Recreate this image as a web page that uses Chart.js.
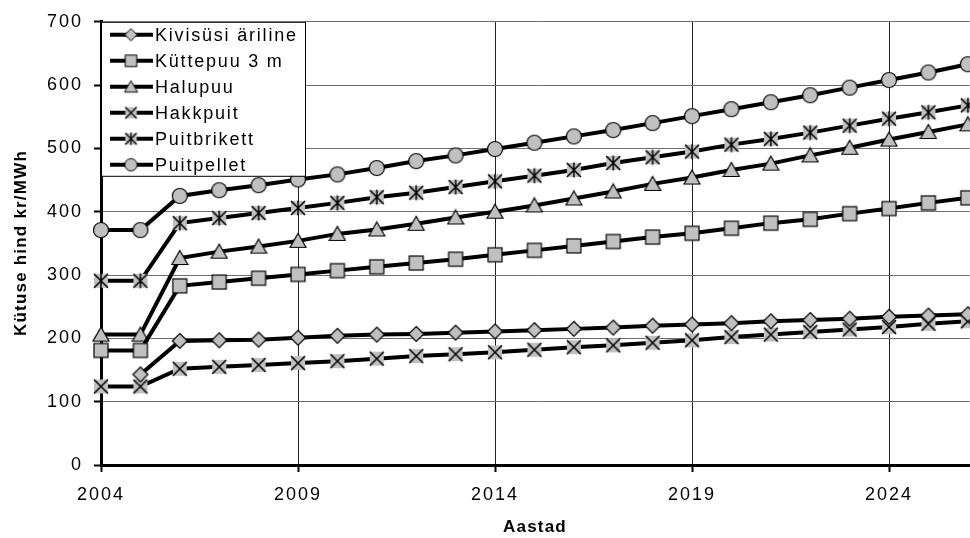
<!DOCTYPE html>
<html>
<head>
<meta charset="utf-8">
<script src="https://cdn.jsdelivr.net/npm/chart.js@4.4.1/dist/chart.umd.min.js"></script>
<style>
  html, body { margin: 0; padding: 0; background: #fff; }
  #wrap { width: 970px; height: 538px; }
</style>
</head>
<body>
<div id="wrap"><canvas id="fuelChart" width="970" height="538"></canvas></div>
<script>
const years = [2004, 2005, 2006, 2007, 2008, 2009, 2010, 2011, 2012, 2013, 2014, 2015,
  2016, 2017, 2018, 2019, 2020, 2021, 2022, 2023, 2024, 2025, 2026];

const kivisysi = [null, 143, 196, 197, 198, 201, 204, 206, 207, 209, 211, 213, 215, 217, 220, 222, 224, 227, 229, 231, 234, 236, 238];
const kuttepuu = [181, 181, 283, 289, 295, 301, 307, 313, 319, 325, 332, 339, 346, 353, 360, 366, 374, 382, 388, 397, 405, 414, 422];
const halupuu = [206, 206, 327, 337, 345, 354, 365, 372, 381, 391, 400, 410, 421, 432, 444, 454, 466, 476, 489, 501, 514, 526, 538];
const hakkpuit = [124, 124, 152, 155, 158, 161, 164, 168, 172, 175, 178, 182, 186, 189, 193, 197, 202, 206, 210, 214, 218, 223, 227];
const puitbrikett = [291, 291, 382, 390, 398, 406, 414, 423, 430, 439, 448, 457, 466, 477, 486, 495, 506, 515, 525, 536, 547, 557, 568];
const puitpellet = [371, 371, 425, 434, 442, 451, 459, 469, 480, 489, 499, 509, 519, 529, 540, 551, 562, 573, 584, 596, 608, 620, 633];

const seriesNames = ['Kivisüsi äriline', 'Küttepuu 3 m', 'Halupuu', 'Hakkpuit', 'Puitbrikett', 'Puitpellet'];
const xTicks = [2004, 2009, 2014, 2019, 2024];
const yTicks = [0, 100, 200, 300, 400, 500, 600, 700];
const xTitle = 'Aastad';
const yTitle = 'Kütuse hind kr/MWh';

const GRAY = '#c0c0c0';
const FONT = '"Liberation Sans", Arial, sans-serif';

// marker images, drawn once on small canvases
function makeMarker(kind, s) {
  const c = document.createElement('canvas');
  const size = Math.ceil(s * 18);
  c.width = size; c.height = size;
  const g = c.getContext('2d');
  g.translate(size / 2, size / 2);
  g.scale(s, s);
  g.fillStyle = GRAY;
  g.strokeStyle = '#000';
  g.lineWidth = 1.2;
  if (kind === 'diamond') {
    g.beginPath();
    g.moveTo(0, -7.5); g.lineTo(7.5, 0); g.lineTo(0, 7.5); g.lineTo(-7.5, 0);
    g.closePath(); g.fill(); g.stroke();
  } else if (kind === 'square') {
    g.fillRect(-7, -7, 14, 14);
    g.strokeRect(-7, -7, 14, 14);
  } else if (kind === 'triangle') {
    g.beginPath();
    g.moveTo(0, -7.5); g.lineTo(8, 6.5); g.lineTo(-8, 6.5);
    g.closePath(); g.fill(); g.stroke();
  } else if (kind === 'x' || kind === 'star') {
    g.fillRect(-7, -7, 14, 14);
    g.lineWidth = 1.5;
    g.beginPath();
    g.moveTo(-7, -7); g.lineTo(7, 7);
    g.moveTo(7, -7); g.lineTo(-7, 7);
    if (kind === 'star') { g.moveTo(0, -7.5); g.lineTo(0, 7.5); }
    g.stroke();
  } else if (kind === 'circle') {
    g.beginPath();
    g.arc(0, 0, 7.5, 0, Math.PI * 2);
    g.fill(); g.stroke();
  }
  return c;
}

const markerKinds = ['diamond', 'square', 'triangle', 'x', 'star', 'circle'];
const markers = markerKinds.map(k => makeMarker(k, 1));
const legendMarkers = markerKinds.map(k => makeMarker(k, 0.82));

const allSeries = [kivisysi, kuttepuu, halupuu, hakkpuit, puitbrikett, puitpellet];

// image markers are drawn at their own size; tiny radius keeps the
// chart from reserving extra room around the plot for them
const datasets = allSeries.map((vals, i) => ({
  label: seriesNames[i],
  data: years.map((yr, j) => ({ x: yr, y: vals[j] })),
  borderColor: '#000',
  borderWidth: 4,
  pointStyle: markers[i],
  pointRadius: 0.2,
  pointBorderWidth: 0,
  pointHoverRadius: 0.2,
  tension: 0,
  clip: false
}));

// wide letter spacing like the exported original
const spacing = {
  id: 'spacing',
  beforeLayout(chart) { chart.ctx.letterSpacing = '2px'; },
  beforeDraw(chart) { chart.ctx.letterSpacing = '2px'; }
};

// axis titles + legend box in the top-left corner of the plot
const extras = {
  id: 'extras',
  afterDraw(chart) {
    const ctx = chart.ctx;
    const area = chart.chartArea;
    ctx.save();
    ctx.fillStyle = '#000';
    ctx.font = 'bold 17px ' + FONT;
    ctx.letterSpacing = '1.2px';
    ctx.textAlign = 'center';
    ctx.textBaseline = 'middle';
    ctx.fillText(xTitle, 535, 527);
    ctx.save();
    ctx.translate(21, 243);
    ctx.rotate(-Math.PI / 2);
    ctx.fillText(yTitle, 0, 0);
    ctx.restore();

    const left = area.left, top = area.top;
    ctx.fillStyle = '#fff';
    ctx.fillRect(left, top, 204, 154);
    ctx.strokeStyle = '#000';
    ctx.lineWidth = 1;
    ctx.strokeRect(left + 0.5, top + 0.5, 204, 154);
    ctx.font = '18px ' + FONT;
    ctx.letterSpacing = '1.8px';
    ctx.textAlign = 'left';
    ctx.fillStyle = '#000';
    seriesNames.forEach((name, i) => {
      const cy = top + 13 + i * 26;
      ctx.beginPath();
      ctx.lineWidth = 4;
      ctx.moveTo(left + 9, cy);
      ctx.lineTo(left + 52, cy);
      ctx.stroke();
      const m = legendMarkers[i];
      ctx.drawImage(m, left + 30 - m.width / 2, cy - m.height / 2);
      ctx.fillText(name, left + 54, cy + 1);
    });
    ctx.restore();
  }
};

new Chart(document.getElementById('fuelChart'), {
  type: 'line',
  data: { datasets },
  options: {
    responsive: false,
    animation: false,
    layout: { padding: { top: 18, right: 0, left: 0, bottom: 0 } },
    plugins: {
      legend: { display: false },
      tooltip: { enabled: false }
    },
    scales: {
      x: {
        type: 'linear',
        min: 2004,
        max: 2026.05,
        afterBuildTicks: (scale) => {
          scale.ticks = xTicks.map(v => ({ value: v }));
        },
        afterFit: (scale) => { scale.height = 73; },
        ticks: {
          color: '#000',
          padding: 12,
          font: { family: FONT, size: 18 },
          callback: (v) => String(v),
          maxRotation: 0,
          autoSkip: false
        },
        grid: { color: '#222', lineWidth: 1, tickLength: 7, tickColor: '#000', tickWidth: 2 },
        border: { color: '#000', width: 3 }
      },
      y: {
        min: 0,
        max: 700,
        afterBuildTicks: (scale) => {
          scale.ticks = yTicks.map(v => ({ value: v }));
        },
        afterFit: (scale) => { scale.width = 101; },
        ticks: {
          color: '#000',
          padding: 11,
          font: { family: FONT, size: 18 }
        },
        grid: { color: '#6e6e6e', lineWidth: 1, tickLength: 7, tickColor: '#000', tickWidth: 2 },
        border: { color: '#000', width: 3 }
      }
    }
  },
  plugins: [spacing, extras]
});
</script>
</body>
</html>
